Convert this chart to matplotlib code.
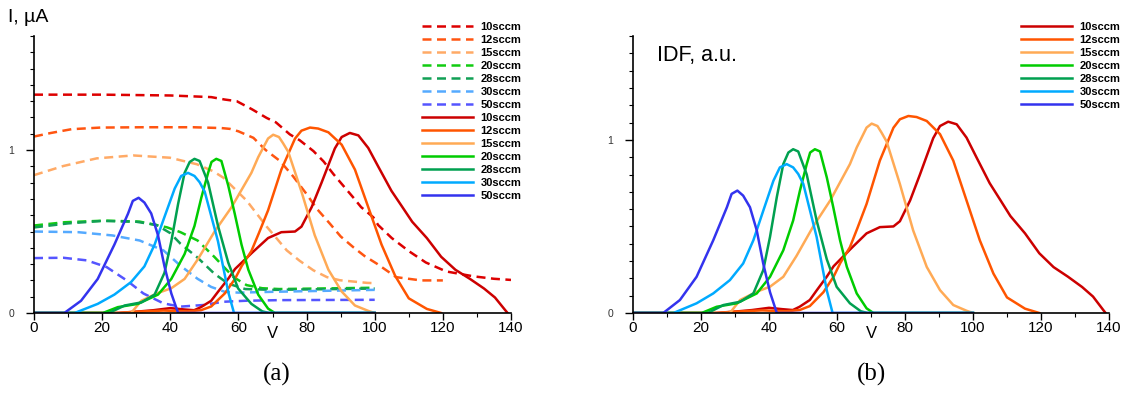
import matplotlib
matplotlib.use("Agg")
import matplotlib.pyplot as plt
from matplotlib.ticker import MultipleLocator

plt.rcParams['font.family'] = ['Liberation Sans', 'DejaVu Sans']

labels = ['10sccm', '12sccm', '15sccm', '20sccm', '28sccm', '30sccm', '50sccm']
solid_colors = ['#cc0000', '#ff5500', '#ffaa55', '#00cc00', '#00a050', '#00aaff', '#3333ee']
dash_colors = ['#dd0000', '#ff5511', '#ffaa66', '#11cc11', '#11a055', '#55aaff', '#5555ff']

# ion distribution function (solid)
idf_x = [
    [0, 24, 30, 35, 40, 44, 47, 49, 52, 54, 57, 59, 64, 68.7, 72.6, 76.6, 78.5, 81.5, 84.4, 88.3, 90.3,
     92.7, 95.2, 98.1, 101, 104.9, 107.8, 111, 115.3, 119.5, 123.7, 127.9, 132.1, 135.3, 138.4, 139],
    [0, 25, 30, 38, 45, 49, 52, 54, 56, 59, 61, 63.8, 66, 68.7, 72.6, 76.6, 78.5, 81, 83.4, 86.4, 90.3,
     94.2, 98.1, 102, 106, 110, 115.3, 119.5],
    [0, 28.5, 31.5, 36.4, 40.3, 44.2, 48.1, 53, 58, 63.8, 65.8, 68.7, 70.2, 71.9, 73.1, 74.6, 78.5, 82.4,
     86.4, 90.3, 94.2, 98.1, 100],
    [0, 20.2, 24.6, 30.5, 36.4, 40.3, 44.2, 47.1, 49.1, 51.1, 52.1, 53.5, 55, 57, 58.9, 60.9, 62.9, 65.8,
     68.7, 70.7, 100],
    [0, 22, 26.6, 31.5, 35.4, 38.3, 40.3, 42.3, 44.2, 45.7, 47.1, 48.6, 51.1, 54, 57, 59.9, 63.8, 67, 69,
     100],
    [0, 11.9, 18.7, 23.6, 28.5, 32.4, 35.4, 38.3, 41.3, 43.2, 45.2, 47.1, 48.6, 50.1, 54, 57, 58.7, 100],
    [0, 8.9, 13.8, 18.7, 23.6, 27.6, 29, 30.7, 32.4, 34.4, 36.4, 38.3, 40.3, 42.3, 100],
]
idf_y = [
    [0, 0, 0.008, 0.017, 0.03, 0.022, 0.017, 0.036, 0.075, 0.13, 0.21, 0.27, 0.37, 0.46, 0.496, 0.5, 0.53,
     0.65, 0.8, 1.01, 1.08, 1.105, 1.09, 1.013, 0.9, 0.75, 0.66, 0.56, 0.46, 0.345, 0.265, 0.21, 0.15,
     0.095, 0.015, 0],
    [0, 0, 0.008, 0.015, 0.01, 0.017, 0.04, 0.08, 0.12, 0.21, 0.29, 0.38, 0.49, 0.63, 0.88, 1.07, 1.119,
     1.138, 1.132, 1.109, 1.033, 0.88, 0.65, 0.42, 0.228, 0.09, 0.025, 0],
    [0, 0, 0.075, 0.123, 0.152, 0.209, 0.33, 0.5, 0.65, 0.86, 0.956, 1.071, 1.094, 1.08, 1.042, 0.99,
     0.745, 0.477, 0.266, 0.132, 0.046, 0.013, 0],
    [0, 0, 0.036, 0.056, 0.113, 0.209, 0.362, 0.534, 0.707, 0.86, 0.927, 0.946, 0.933, 0.783, 0.611, 0.42,
     0.266, 0.113, 0.027, 0, 0],
    [0, 0, 0.046, 0.065, 0.113, 0.247, 0.44, 0.67, 0.86, 0.927, 0.946, 0.933, 0.80, 0.535, 0.31, 0.151,
     0.056, 0.01, 0, 0],
    [0, 0, 0.056, 0.113, 0.19, 0.286, 0.42, 0.59, 0.764, 0.841, 0.86, 0.841, 0.803, 0.745, 0.44, 0.13, 0,
     0],
    [0, 0, 0.075, 0.209, 0.42, 0.61, 0.688, 0.707, 0.678, 0.611, 0.477, 0.286, 0.12, 0, 0],
]

# probe current (dashed)
cur_x = [
    [0, 20, 40, 52, 56, 59.5, 64, 68.3, 71, 75.1, 78, 82, 85, 87.9, 90, 93.7, 96, 99.6, 101, 105, 110,
     115, 121, 129, 135, 140],
    [0, 5, 11, 19.5, 32, 46.7, 55, 57.5, 60, 64.4, 68, 72.2, 76, 80, 83, 86.9, 90, 93.7, 97, 100.6,
     106.3, 113.6, 120],
    [0, 8.6, 18.4, 29.1, 39.9, 47.8, 52.6, 55.6, 62.4, 68.3, 74.2, 78, 82, 86, 89.8, 97.7, 100],
    [0, 9, 21, 31, 39, 43, 48, 53, 58.5, 62.4, 67, 72, 100],
    [0, 10, 20, 30, 36, 40, 43, 48, 53, 57, 62, 70, 100],
    [0, 13, 23, 31, 38, 43, 48, 52, 56, 60, 70, 100],
    [0, 8.6, 15.5, 21.3, 27.2, 32.1, 38, 42.9, 49.7, 55.6, 62, 72, 100],
]
cur_y = [
    [1.34, 1.34, 1.335, 1.325, 1.31, 1.30, 1.25, 1.197, 1.17, 1.096, 1.06, 0.994, 0.93, 0.852, 0.80,
     0.709, 0.65, 0.587, 0.54, 0.46, 0.38, 0.31, 0.255, 0.225, 0.21, 0.203],
    [1.083, 1.105, 1.128, 1.138, 1.14, 1.14, 1.135, 1.13, 1.115, 1.075, 1.0, 0.933, 0.84, 0.73, 0.64,
     0.547, 0.47, 0.404, 0.35, 0.303, 0.22, 0.2, 0.2],
    [0.846, 0.902, 0.949, 0.967, 0.953, 0.913, 0.87, 0.83, 0.69, 0.53, 0.384, 0.32, 0.262, 0.22, 0.201,
     0.185, 0.183],
    [0.537, 0.557, 0.567, 0.561, 0.526, 0.496, 0.445, 0.343, 0.221, 0.171, 0.152, 0.147, 0.155],
    [0.525, 0.55, 0.565, 0.56, 0.54, 0.49, 0.425, 0.34, 0.24, 0.18, 0.147, 0.142, 0.15],
    [0.5, 0.496, 0.476, 0.445, 0.384, 0.29, 0.21, 0.16, 0.13, 0.125, 0.13, 0.142],
    [0.337, 0.339, 0.323, 0.282, 0.2, 0.12, 0.059, 0.039, 0.049, 0.069, 0.075, 0.079, 0.081],
]


def style_axes(ax, ytop):
    ax.set_xlim(0, 140)
    ax.set_ylim(0, ytop)
    ax.spines['top'].set_visible(False)
    ax.spines['right'].set_visible(False)
    ax.spines['left'].set_linewidth(1.2)
    ax.spines['bottom'].set_linewidth(1.2)
    ax.xaxis.set_major_locator(MultipleLocator(20))
    ax.xaxis.set_minor_locator(MultipleLocator(10))
    ax.yaxis.set_major_locator(MultipleLocator(1))
    ax.yaxis.set_minor_locator(MultipleLocator(0.1))
    ax.tick_params(axis='x', which='major', direction='out', length=5, width=1, labelsize=11, pad=1)
    ax.tick_params(axis='x', which='minor', direction='out', length=3, width=0.8)
    ax.tick_params(axis='y', which='major', direction='out', length=6, width=1, labelsize=7.5,
                   labelcolor='#333333', pad=8)
    ax.tick_params(axis='y', which='minor', direction='out', length=3, width=0.8)
    ax.set_xlabel('V', fontsize=12, labelpad=-7)


fig = plt.figure(figsize=(11.23, 3.93), dpi=100)
W, H = 1123, 393
ax1 = fig.add_axes([34 / W, 1 - 313 / H, 477 / W, 277 / H])
ax2 = fig.add_axes([633 / W, 1 - 313 / H, 476 / W, 277 / H])

handles = []
for i in range(len(labels)):
    ln, = ax1.plot(cur_x[i], cur_y[i], color=dash_colors[i], lw=1.8, dashes=(3.6, 2.2),
                   solid_joinstyle='round', label=labels[i])
    handles.append(ln)
for i in range(len(labels)):
    ln, = ax1.plot(idf_x[i], idf_y[i], color=solid_colors[i], lw=1.8, solid_joinstyle='round',
                   label=labels[i])
    handles.append(ln)
    ax2.plot(idf_x[i], idf_y[i], color=solid_colors[i], lw=1.8, solid_joinstyle='round', label=labels[i])

style_axes(ax1, 1.7)
style_axes(ax2, 1.6)

leg_kw = dict(loc='upper left', frameon=False, prop={'weight': 'bold', 'size': 8}, handlelength=4.6,
              handletextpad=0.65, labelspacing=0.27, borderpad=0, borderaxespad=0)
fig.legend(handles=handles, bbox_to_anchor=(422 / W, 1 - 22 / H), **leg_kw)
fig.legend(handles=handles[7:], bbox_to_anchor=(1021 / W, 1 - 22 / H), **leg_kw)

fig.text(8 / W, 1 - 18 / H, 'I, µA', fontsize=14, va='center', ha='left')
ax2.text(24 / 476, 1 - 19 / 277, 'IDF, a.u.', fontsize=15.5, transform=ax2.transAxes, va='center')
fig.text(277 / W, 1 - 374 / H, '(a)', fontsize=18, family='Liberation Serif', ha='center', va='center')
fig.text(872 / W, 1 - 374 / H, '(b)', fontsize=18, family='Liberation Serif', ha='center', va='center')

fig.savefig('out.png', dpi=100)
